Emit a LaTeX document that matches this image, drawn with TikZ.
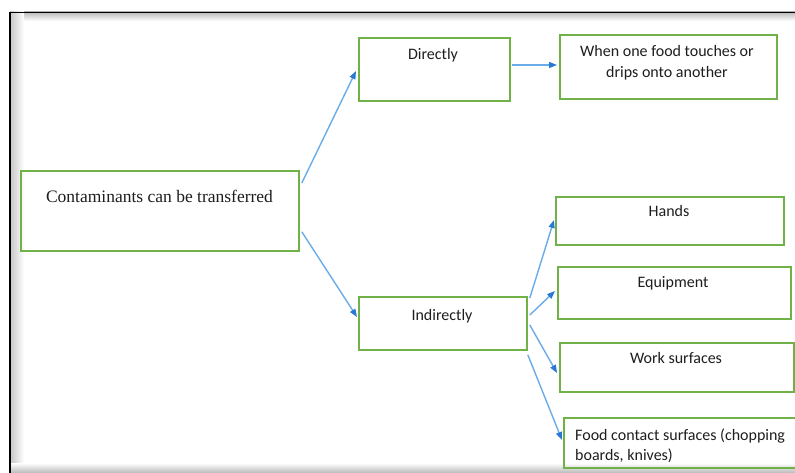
\documentclass[tikz,border=0pt]{standalone}
\usepackage{fontspec}
\setmainfont{Liberation Serif}
\newfontfamily\calib{Carlito}
\usetikzlibrary{arrows.meta}
\definecolor{boxgreen}{RGB}{112,178,72}
\definecolor{arrblue}{RGB}{105,172,232}
\definecolor{headblue}{RGB}{40,120,212}
\definecolor{txtgray}{RGB}{30,30,30}
\tikzset{
  gbox/.style={draw=boxgreen, line width=1.8pt, rectangle, inner sep=0pt, anchor=north west},
  stxt/.style={font=\calib\fontsize{16}{18}\selectfont, text=txtgray, inner sep=0pt, anchor=base},
  sertxt/.style={font=\fontsize{17.5}{20}\selectfont, text=txtgray, inner sep=0pt, anchor=base},
  arr/.style={draw=arrblue, line width=1.4pt, -{Triangle[length=8pt,width=6pt,color=headblue]}}
}
\begin{document}
\begin{tikzpicture}[x=1pt,y=-1pt]
\useasboundingbox (0,0) rectangle (795,473);
\fill[white] (0,0) rectangle (795,473);
% frame shading
\shade[top color=gray!55, bottom color=white] (10,12) rectangle (795,21);
\shade[left color=gray!45, right color=white] (10,12) rectangle (24,473);
\shade[top color=white, bottom color=gray!55] (10,463) rectangle (795,473);
\draw[black, line width=1.6pt] (10,473) -- (10,12.5) -- (795,12.5);
% boxes
\node[gbox, minimum width=278pt, minimum height=80pt] (main) at (20,170) {};
\node[gbox, minimum width=151pt, minimum height=63pt] (dir) at (358,37) {};
\node[gbox, minimum width=217pt, minimum height=64pt] (when) at (559,34) {};
\node[gbox, minimum width=168pt, minimum height=53pt] (ind) at (358,296) {};
\node[gbox, minimum width=228pt, minimum height=48pt] (hands) at (555,196) {};
\node[gbox, minimum width=233pt, minimum height=52pt] (equip) at (557,266) {};
\node[gbox, minimum width=234pt, minimum height=49pt] (work) at (559,342) {};
\node[gbox, minimum width=245pt, minimum height=50pt] (food) at (563,417) {};
% texts
\node[sertxt] (mainT) at (159.5,203) {Contaminants can be transferred};
\node[stxt] (dirT) at (433,60) {Directly};
\node[stxt] (whenT1) at (667,57) {When one food touches or};
\node[stxt] (whenT2) at (667,78) {drips onto another};
\node[stxt] (indT) at (442,320) {Indirectly};
\node[stxt] (handsT) at (669,217) {Hands};
\node[stxt] (equipT) at (673,287) {Equipment};
\node[stxt] (workT) at (676,363) {Work surfaces};
\node[stxt, anchor=base west] (foodT1) at (575,440) {Food contact surfaces (chopping};
\node[stxt, anchor=base west] (foodT2) at (575,460) {boards, knives)};
% arrows
\draw[arr] ([shift={(2,13)}]main.north east) -- ([shift={(-2,34)}]dir.north west);
\draw[arr] ([shift={(2,-20)}]main.south east) -- ([shift={(-1,21)}]ind.north west);
\draw[arr] ([shift={(1,28)}]dir.north east) -- ([shift={(-2,31)}]when.north west);
\draw[arr] ([shift={(2,2)}]ind.north east) -- ([shift={(-1,24)}]hands.north west);
\draw[arr] ([shift={(2,19)}]ind.north east) -- ([shift={(-2,25)}]equip.north west);
\draw[arr] ([shift={(2,29)}]ind.north east) -- ([shift={(-2,31)}]work.north west);
\draw[arr] ([shift={(0,4)}]ind.south east) -- ([shift={(-1,23)}]food.north west);
\end{tikzpicture}
\end{document}
